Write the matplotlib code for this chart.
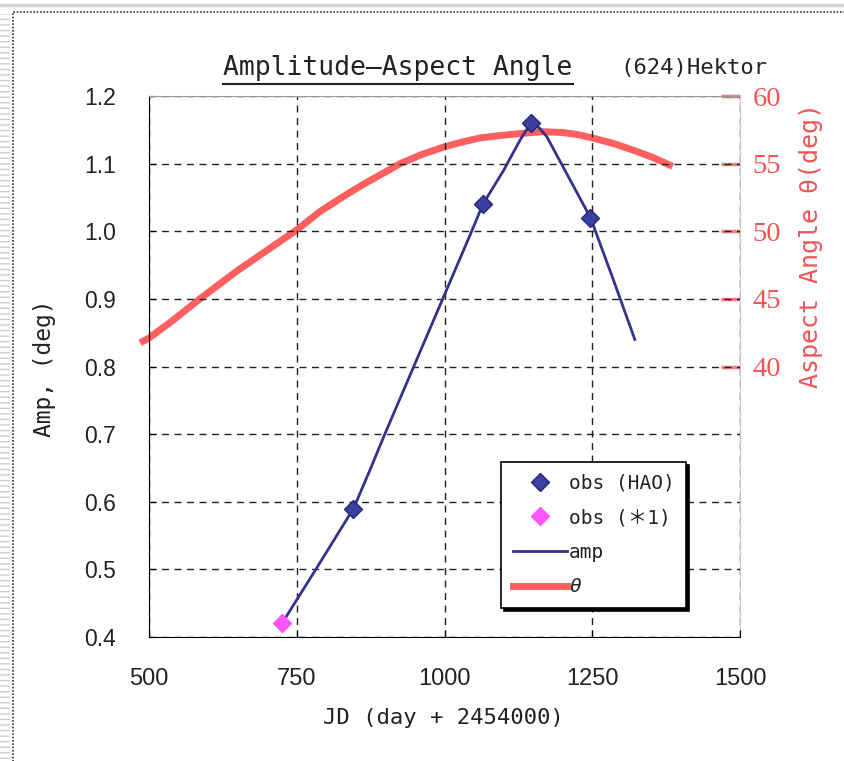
import matplotlib
matplotlib.use("Agg")
import matplotlib.pyplot as plt
from matplotlib.lines import Line2D
from matplotlib.patches import Rectangle

# observed amplitude points
hao_jd = [846, 1065, 1146, 1247]
hao_amp = [0.59, 1.04, 1.16, 1.02]
ref_jd = [725]
ref_amp = [0.42]

# amplitude curve
amp_jd = [725, 750, 778, 812, 846, 872, 899, 948, 997, 1046, 1065, 1100, 1128, 1146,
          1160, 1173, 1210, 1247, 1285, 1322]
amp_val = [0.42, 0.455, 0.494, 0.542, 0.59, 0.643, 0.70, 0.80, 0.90, 1.00, 1.04, 1.09,
           1.135, 1.16, 1.153, 1.14, 1.08, 1.02, 0.93, 0.84]

# aspect angle curve
theta_jd = [485, 500, 540, 586, 650, 700, 750, 789, 830, 860, 925, 960, 1000, 1030, 1060,
            1095, 1128, 1165, 1200, 1225, 1250, 1285, 1319, 1350, 1386]
theta_val = [41.75, 42.1, 43.4, 45.0, 47.1, 48.6, 50.1, 51.45, 52.6, 53.4, 55.0, 55.65,
             56.25, 56.6, 56.9, 57.08, 57.22, 57.36, 57.3, 57.15, 56.9, 56.5, 56.0, 55.5, 54.8]

x_ticks = [500, 750, 1000, 1250, 1500]
amp_ticks = [0.4, 0.5, 0.6, 0.7, 0.8, 0.9, 1.0, 1.1, 1.2]
theta_ticks = [40, 45, 50, 55, 60]

W, H = 844, 761
NAVY = "#33338a"
SALMON = "#ff5f5f"
RED_TXT = "#f05555"
MONO = ["DejaVu Sans Mono", "Noto Sans CJK JP"]


def main():
    plt.rcParams["font.family"] = ["Liberation Sans", "DejaVu Sans"]

    fig = plt.figure(figsize=(W / 100, H / 100), dpi=100)
    fig.patch.set_facecolor("white")

    # sheet decorations: top gray rule, striped left margin, dotted frame
    fig.add_artist(Line2D([0, 1], [1 - 5 / H, 1 - 5 / H], color="#d4d4d4", lw=2.5,
                          transform=fig.transFigure))
    fig.add_artist(Rectangle((0, 0), 10 / W, 1 - 14 / H, transform=fig.transFigure,
                             facecolor="white", edgecolor="#cfcfcf", hatch="---", lw=0))
    fig.add_artist(Rectangle((13 / W, -0.05), 1.1, 1.05 - 12 / H, transform=fig.transFigure,
                             fill=False, edgecolor="#333333", lw=1.2, linestyle=(0, (1, 1))))

    ax = fig.add_axes([149 / W, 1 - 637 / H, 591 / W, 541 / H])
    ax2 = ax.twinx()
    ax.set_zorder(ax2.get_zorder() + 1)
    ax.patch.set_visible(False)

    # theta on the right axis
    ax2.plot(theta_jd, theta_val, color=SALMON, lw=5, solid_capstyle="butt",
             solid_joinstyle="round", clip_on=False, label="θ")
    ax2.set_ylim(20, 60)
    ax2.set_yticks(theta_ticks)
    ax2.tick_params(axis="y", direction="in", length=14, width=2.5, color="#ff7a7a",
                    labelcolor=RED_TXT, labelsize=20.5, pad=9)
    for lab in ax2.get_yticklabels():
        lab.set_fontfamily("Liberation Serif")
    for side in ["top", "left", "bottom"]:
        ax2.spines[side].set_visible(False)
    ax2.spines["right"].set_color("#c8c8c8")

    # amplitude on the left axis
    ax.plot(amp_jd, amp_val, color=NAVY, lw=2, solid_joinstyle="round", label="amp")
    ax.plot(hao_jd, hao_amp, linestyle="none", marker="D", markersize=9.5,
            markerfacecolor="#3b3fa0", markeredgecolor="#262670", label="obs (HAO)")
    ax.plot(ref_jd, ref_amp, linestyle="none", marker="D", markersize=9.5,
            markerfacecolor="#ff55ff", markeredgecolor="#ff55ff", clip_on=False,
            label="obs (＊1)")

    ax.set_xlim(500, 1500)
    ax.set_ylim(0.4, 1.2)
    ax.set_xticks(x_ticks)
    ax.set_yticks(amp_ticks)
    ax.set_yticklabels([f"{v:.1f}" for v in amp_ticks])
    ax.grid(True, color="#222222", linestyle=(0, (5, 4)), linewidth=1)
    ax.tick_params(axis="y", direction="in", length=5, color="black",
                   labelsize=16.5, pad=24, labelcolor="#222222")
    ax.tick_params(axis="x", direction="in", length=5, color="black",
                   labelsize=17, pad=22, labelcolor="#222222")
    ax.tick_params(axis="y", right=False)
    ax.spines["left"].set_color("black")
    ax.spines["bottom"].set_color("black")
    ax.spines["top"].set_color("#999999")
    ax.spines["top"].set_linestyle((0, (1, 1)))
    ax.spines["right"].set_visible(False)

    # axis labels
    fig.text(45 / W, 1 - 368 / H, "Amp, (deg)", rotation=90, ha="center", va="center",
             fontsize=16.5, family=MONO, color="#222222")
    fig.text(811 / W, 1 - 245 / H, "Aspect Angle θ(deg)", rotation=90, ha="center",
             va="center", fontsize=18, family=MONO, color=RED_TXT)
    fig.text(443 / W, 1 - 718 / H, "JD (day + 2454000)", ha="center", va="center",
             fontsize=16, family=MONO, color="#222222")

    # title
    title = fig.text(398 / W, 1 - 68 / H, "Amplitude—Aspect Angle", ha="center",
                     va="center", fontsize=19, family=MONO, color="#222222")
    fig.text(620 / W, 1 - 68 / H, "(624)Hektor", ha="left", va="center",
             fontsize=16, family=MONO, color="#222222")

    # legend
    handles = [
        Line2D([], [], linestyle="none", marker="D", markersize=9.5,
               markerfacecolor="#3b3fa0", markeredgecolor="#262670"),
        Line2D([], [], linestyle="none", marker="D", markersize=9.5,
               markerfacecolor="#ff55ff", markeredgecolor="#ff55ff"),
        Line2D([], [], color=NAVY, lw=2),
        Line2D([], [], color=SALMON, lw=5),
    ]
    labels = ["obs (HAO)", "obs (＊1)", "amp", "θ"]
    leg = ax.legend(handles, labels, loc="upper left",
                    bbox_to_anchor=(501 / W, 1 - 462 / H), bbox_transform=fig.transFigure,
                    borderaxespad=0, frameon=True, fancybox=False,
                    shadow={"color": "black", "alpha": 1},
                    prop={"family": MONO, "size": 14}, labelspacing=0.8,
                    handlelength=2.8, handletextpad=0.1, borderpad=0.6)
    leg.get_frame().set_edgecolor("black")
    leg.get_frame().set_linewidth(1.2)
    leg.get_texts()[3].set_style("italic")
    for t in leg.get_texts():
        t.set_color("#222222")

    # underline under the title
    fig.canvas.draw()
    bb = title.get_window_extent(fig.canvas.get_renderer())
    y_line = (bb.y0 - 3) / H
    fig.add_artist(Line2D([bb.x0 / W, bb.x1 / W], [y_line, y_line], color="#222222",
                          lw=1.5, transform=fig.transFigure))

    fig.savefig("out.png", dpi=100)


if __name__ == "__main__":
    main()
